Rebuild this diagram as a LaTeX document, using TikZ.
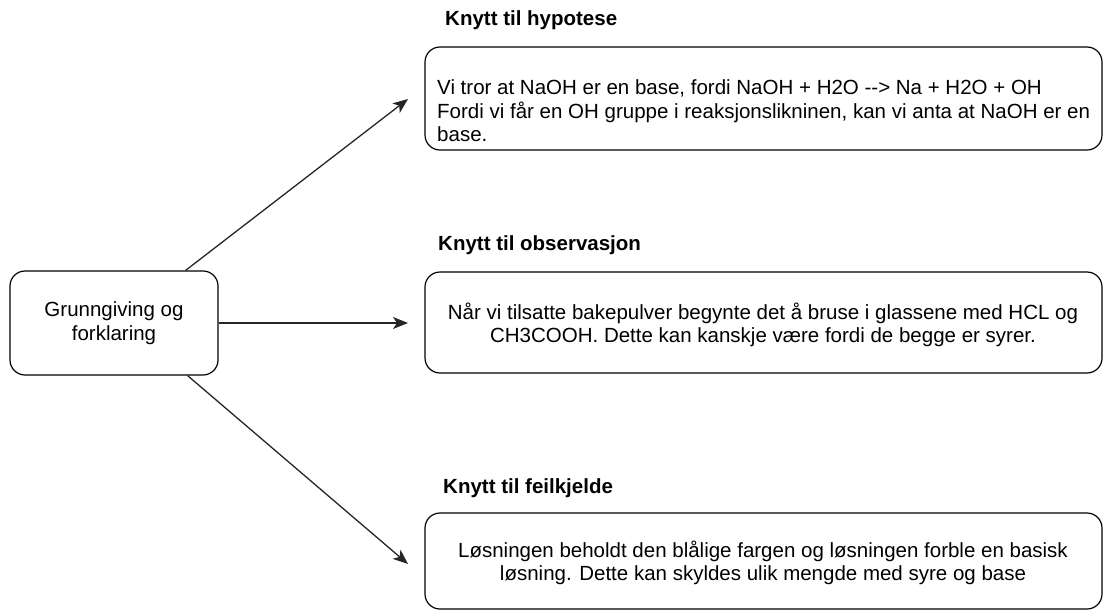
\documentclass[tikz,border=0pt]{standalone}
\usepackage{fontspec}
\setmainfont{Liberation Sans}
\usetikzlibrary{arrows.meta}
\begin{document}
\begin{tikzpicture}[x=1pt,y=-1pt,
  box/.style={draw=black, line width=1.2pt, rounded corners=15pt, fill=white, inner sep=0pt},
  body/.style={font=\fontsize{20.5}{23.5}\selectfont, inner sep=0pt, text=black},
  ttl/.style={font=\fontsize{20.5}{23.5}\selectfont\bfseries, inner sep=0pt, anchor=west},
  arr/.style={draw=black!85, line width=1.3pt, -{Stealth[length=15pt,width=12pt,inset=4pt]}}]
\useasboundingbox (0,0) rectangle (1105,611);
% main node
\node[box, minimum width=208pt, minimum height=104pt, body, align=center] (main) at (114,323) {Grunngiving og\\forklaring};
% boxes
\node[box, minimum width=677pt, minimum height=103pt] (box1) at (763.5,98.5) {};
\node[box, minimum width=677pt, minimum height=101pt] (box2) at (763.5,322.5) {};
\node[box, minimum width=677pt, minimum height=96pt] (box3) at (763.5,561) {};
% titles
\node[ttl] (t1) at (445,20) {Knytt til hypotese};
\node[ttl] (t2) at (438,245) {Knytt til observasjon};
\node[ttl] (t3) at (443,488) {Knytt til feilkjelde};
% texts
\node[body, align=left, anchor=west] (x1) at (437,111) {Vi tror at NaOH er en base, fordi NaOH + H2O {-}{-}> Na + H2O + OH\\Fordi vi får en OH gruppe i reaksjonslikninen, kan vi anta at NaOH er en\\base.};
\node[body, align=center] (x2) at (763,325) {Når vi tilsatte bakepulver begynte det å bruse i glassene med HCL og\\CH3COOH. Dette kan kanskje være fordi de begge er syrer.};
\node[body, align=center] (x3) at (763,563) {Løsningen beholdt den blålige fargen og løsningen forble en basisk\\løsning. Dette kan skyldes ulik mengde med syre og base};
% arrow ends
\coordinate (a1) at (408,99);
\coordinate (a2) at (408,323);
\coordinate (a3) at (408,564);
\draw[arr] ([xshift=-33pt]main.north east) -- (a1);
\draw[arr] (main.east) -- (a2);
\draw[arr] ([xshift=-31pt]main.south east) -- (a3);
\end{tikzpicture}
\end{document}
